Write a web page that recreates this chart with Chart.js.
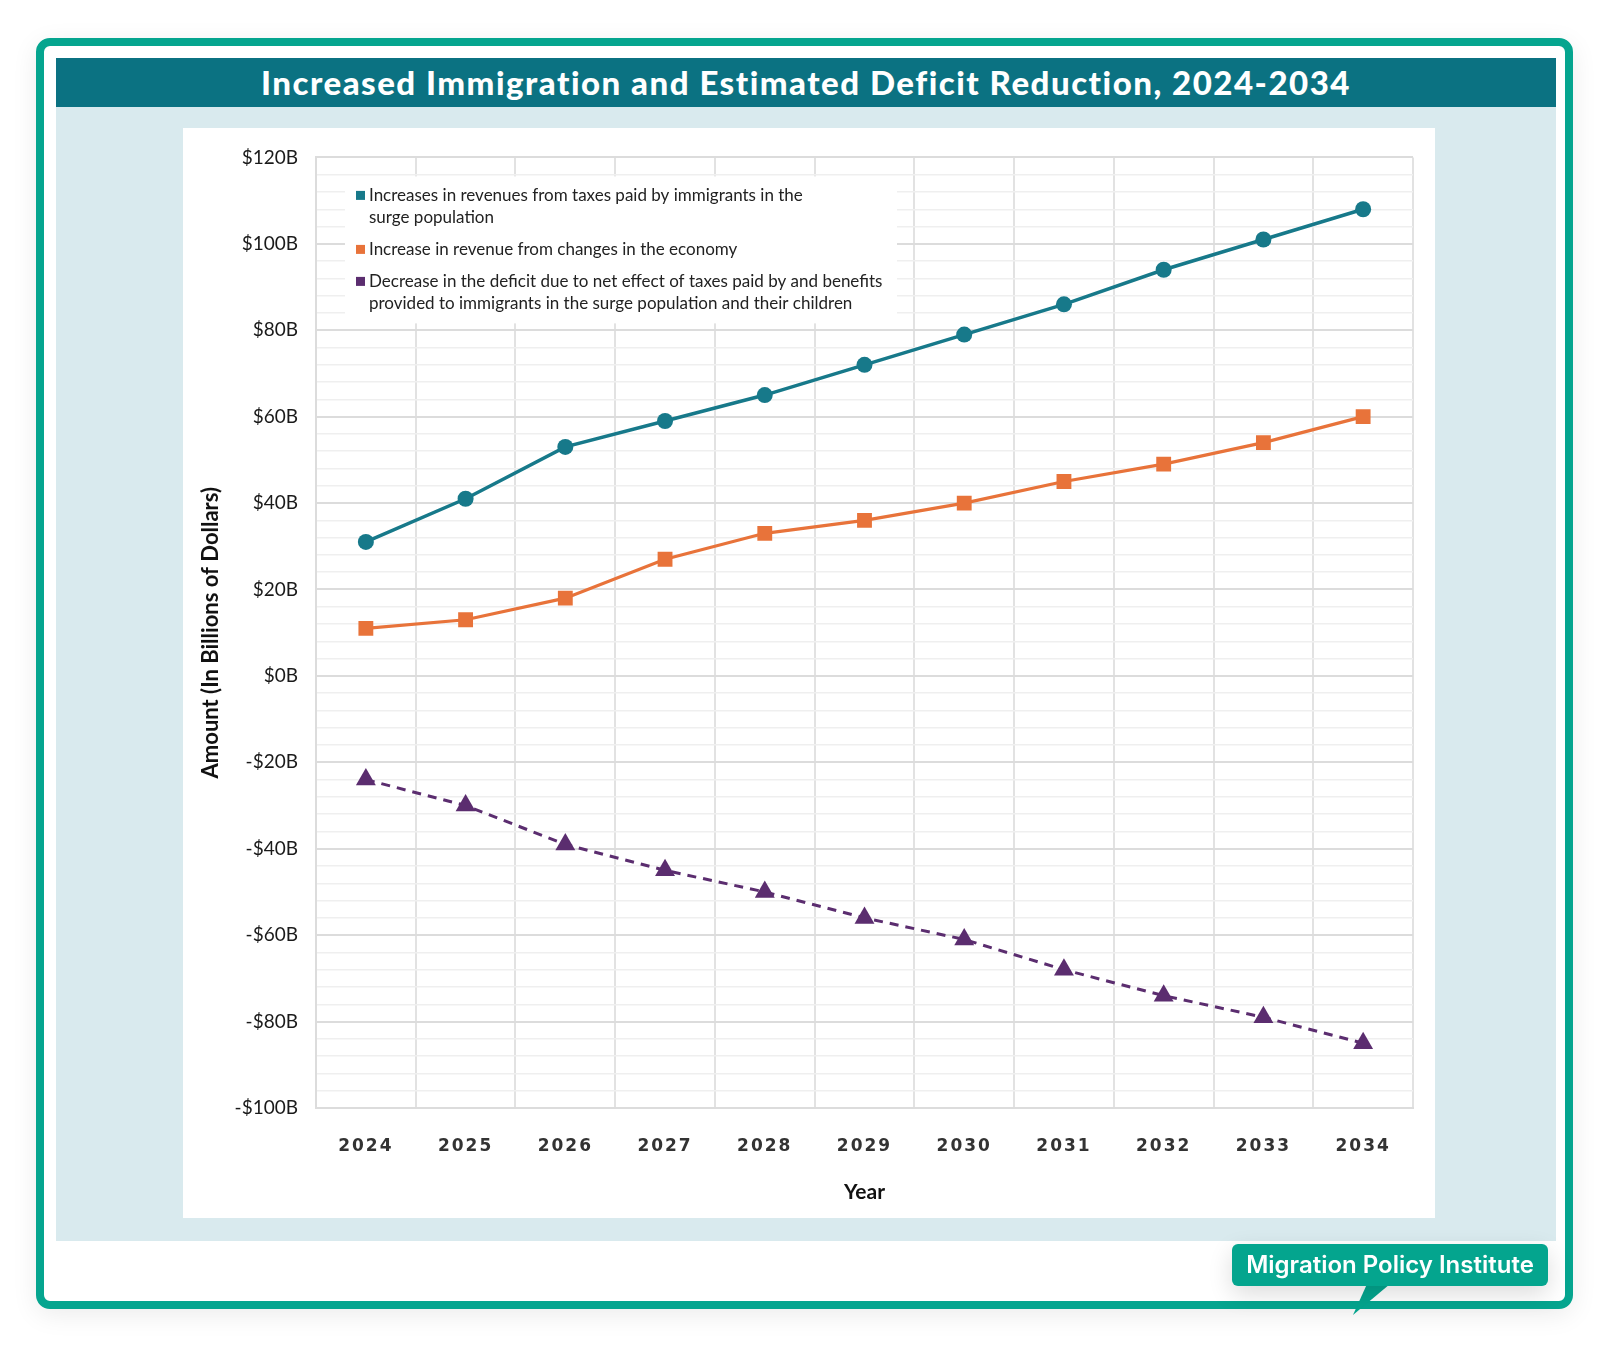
<!DOCTYPE html>
<html>
<head>
<meta charset="utf-8">
<script src="https://cdn.jsdelivr.net/npm/chart.js@4.4.1/dist/chart.umd.min.js"></script>
<style>
  html, body { margin: 0; padding: 0; background: #fff; }
  body { width: 1610px; height: 1345px; position: relative; overflow: hidden; font-family: Lato, "Open Sans", sans-serif; }
  .frame {
    position: absolute; left: 36px; top: 38px; width: 1537px; height: 1271px;
    box-sizing: border-box; border: 8px solid #05a58f; border-radius: 14px;
    box-shadow: 0 6px 26px rgba(0,0,0,0.08);
  }
  .band {
    position: absolute; left: 56px; top: 58px; width: 1500px; height: 49px;
    background: #0b7282; color: #fff; text-align: center;
    font: 900 33px/49px Lato, sans-serif; letter-spacing: 1.5px; white-space: nowrap;
  }
  .panel { position: absolute; left: 56px; top: 107px; width: 1500px; height: 1134px; background: #d9eaee; }
  .chartbox { position: absolute; left: 183px; top: 128px; width: 1252px; height: 1090px; background: #fff; }
  .badge {
    position: absolute; left: 1232px; top: 1244px; width: 316px; height: 42px;
    background: #04a58e; border-radius: 6px; color: #fff; text-align: center;
    font: 600 24px/42px Inter, sans-serif; box-shadow: 0 8px 24px rgba(0,0,0,0.14);
  }
  .tail {
    position: absolute; left: 1346px; top: 1284px; width: 50px; height: 33px;
    background: #04a58e; clip-path: polygon(21px 0, 44px 0, 7px 31px);
  }
</style>
</head>
<body>
<div class="frame"></div>
<div class="band">Increased Immigration and Estimated Deficit Reduction, 2024-2034</div>
<div class="panel"></div>
<div class="chartbox"><canvas id="chart" width="1252" height="1090"></canvas></div>
<div class="tail"></div>
<div class="badge">Migration Policy Institute</div>

<script>
// years on the x axis
const years = ['2024', '2025', '2026', '2027', '2028', '2029', '2030', '2031', '2032', '2033', '2034'];

// billions of dollars
const immigrantTaxes = [31, 41, 53, 59, 65, 72, 79, 86, 94, 101, 108];
const economyRevenue = [11, 13, 18, 27, 33, 36, 40, 45, 49, 54, 60];
const deficitChange = [-24, -30, -39, -45, -50, -56, -61, -68, -74, -79, -85];

// legend text, one entry per line as in the original
const seriesLabels = [
    ['Increases in revenues from taxes paid by immigrants in the', 'surge population'],
    ['Increase in revenue from changes in the economy'],
    ['Decrease in the deficit due to net effect of taxes paid by and benefits', 'provided to immigrants in the surge population and their children']
];

const yMin = -100, yMax = 120, yMinorStep = 4, yMajorStep = 20;

function money(v) {
    return (v < 0 ? '-$' : '$') + Math.abs(v) + 'B';
}

// white box legend drawn over the grid, under the lines
const legendBox = {
    id: 'legendBox',
    beforeDatasetsDraw(chart) {
        const ctx = chart.ctx;
        const area = chart.chartArea;
        const x = area.left + 29, y = area.top + 19;
        ctx.save();
        ctx.fillStyle = '#fff';
        ctx.fillRect(x, y, 552, 147);
        ctx.font = '17px Lato';
        ctx.textBaseline = 'middle';
        let ty = y + 19;
        chart.data.datasets.forEach((ds, i) => {
            ctx.fillStyle = ds.borderColor;
            ctx.fillRect(x + 11, ty - 4.5, 9, 9);
            ctx.fillStyle = '#222';
            seriesLabels[i].forEach(line => {
                ctx.fillText(line, x + 24, ty);
                ty += 22;
            });
            ty += 10;
        });
        ctx.restore();
    }
};

// the year labels are spaced out a little in the original
const spacedYears = {
    id: 'spacedYears',
    beforeDraw(chart) {
        const xs = chart.scales.x;
        if (!xs || xs._spaced) return;
        const drawLabels = xs.drawLabels.bind(xs);
        xs.drawLabels = function (area) {
            chart.ctx.save();
            chart.ctx.letterSpacing = '2px';
            drawLabels(area);
            chart.ctx.restore();
        };
        xs._spaced = true;
    }
};

const ctx = document.getElementById('chart').getContext('2d');
new Chart(ctx, {
    type: 'line',
    data: {
        labels: years,
        datasets: [
            {
                label: seriesLabels[0].join(' '),
                data: immigrantTaxes,
                borderColor: '#17798a',
                backgroundColor: '#17798a',
                borderWidth: 3.5,
                pointStyle: 'circle',
                pointRadius: 8,
                pointBorderWidth: 0
            },
            {
                label: seriesLabels[1].join(' '),
                data: economyRevenue,
                borderColor: '#e8733a',
                backgroundColor: '#e8733a',
                borderWidth: 3.2,
                pointStyle: 'rect',
                pointRadius: 10.5,
                pointBorderWidth: 0
            },
            {
                label: seriesLabels[2].join(' '),
                data: deficitChange,
                borderColor: '#5b2d6f',
                backgroundColor: '#5b2d6f',
                borderWidth: 3,
                borderDash: [9, 7],
                pointStyle: 'triangle',
                pointRadius: 11.5,
                pointBorderWidth: 0
            }
        ]
    },
    options: {
        responsive: false,
        animation: false,
        layout: { padding: { top: 26, right: 22, left: 0, bottom: 0 } },
        plugins: {
            legend: { display: false },
            tooltip: { enabled: false }
        },
        scales: {
            x: {
                offset: true,
                grid: { offset: true, color: '#e2e2e2', lineWidth: 2, drawTicks: false },
                border: { color: '#dcdcdc', width: 2 },
                ticks: {
                    padding: 28,
                    color: '#333',
                    font: { family: 'DejaVu Sans', weight: 'bold', size: 17 }
                },
                title: {
                    display: true,
                    text: 'Year',
                    color: '#111',
                    font: { family: 'Lato', weight: 'bold', size: 21 },
                    padding: { top: 0, bottom: 13 }
                },
                afterFit(scale) { scale.height = 110; }
            },
            y: {
                min: yMin,
                max: yMax,
                grid: {
                    drawTicks: false,
                    color: c => (c.tick && c.tick.value % yMajorStep === 0) ? '#dcdcdc' : '#efefef',
                    lineWidth: c => (c.tick && c.tick.value % yMajorStep === 0) ? 2 : 1.5
                },
                border: { color: '#dcdcdc', width: 2 },
                ticks: {
                    stepSize: yMinorStep,
                    autoSkip: false,
                    padding: 18,
                    color: '#1a1a1a',
                    font: { family: 'Lato', size: 19 },
                    callback: v => (v % yMajorStep === 0) ? money(v) : ''
                },
                title: {
                    display: true,
                    text: 'Amount (In Billions of Dollars)',
                    color: '#111',
                    font: { family: 'Lato', weight: 'bold', size: 22 },
                    padding: { top: 15, bottom: 0 }
                },
                afterFit(scale) { scale.width = 133; }
            }
        }
    },
    plugins: [legendBox, spacedYears]
});
</script>
</body>
</html>
